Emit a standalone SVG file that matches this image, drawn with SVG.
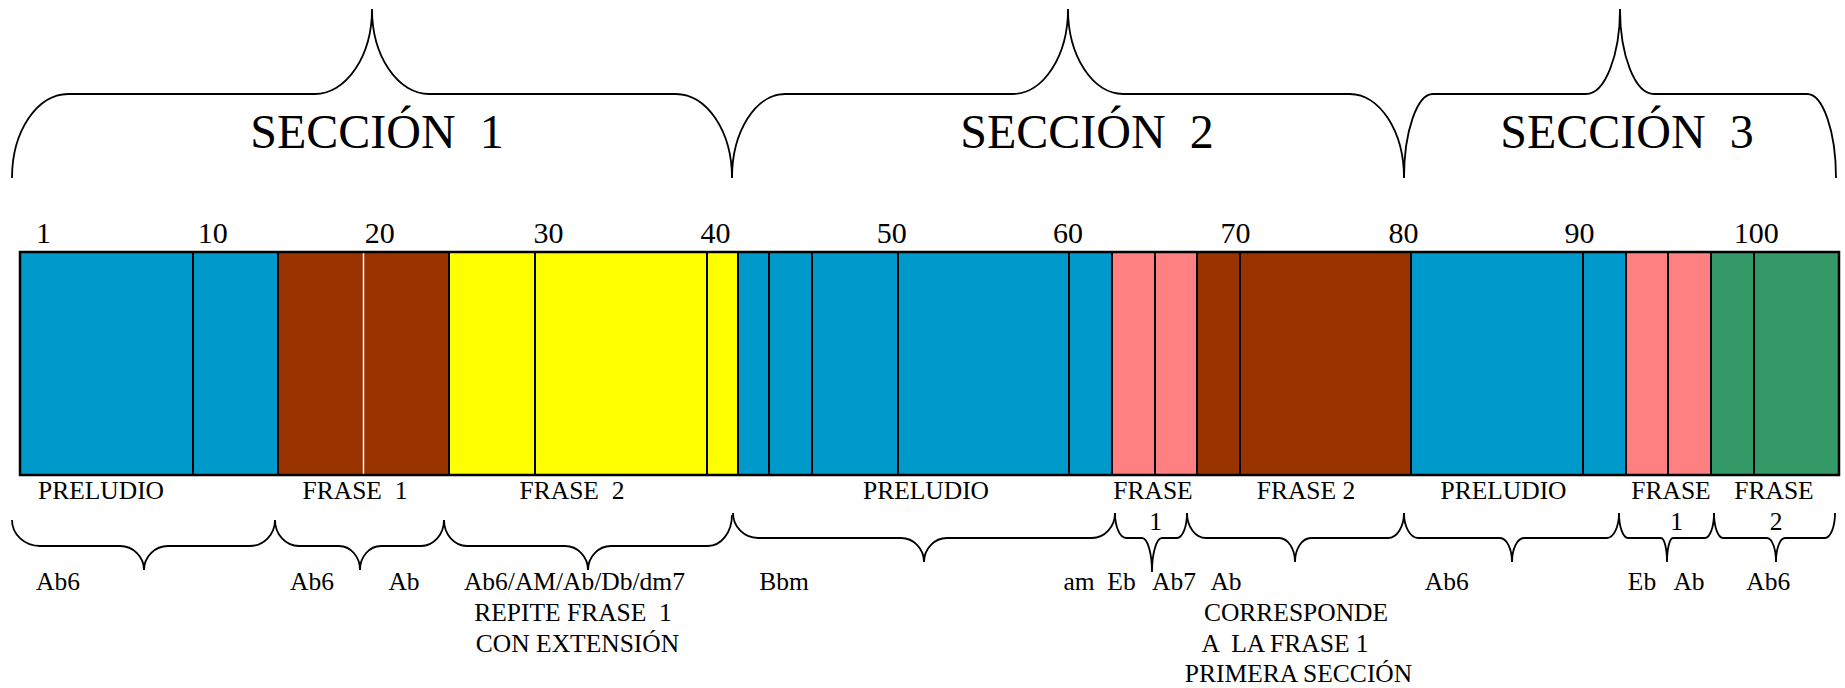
<svg xmlns="http://www.w3.org/2000/svg" width="1845" height="688" viewBox="0 0 1845 688">
<style>
text{font-family:"Liberation Serif","Times New Roman",serif;fill:#000;white-space:pre}
.t{font-size:48px;text-anchor:middle}
.n{font-size:30px;text-anchor:middle}
.l{font-size:25.5px;text-anchor:middle}
.br{fill:none;stroke:#000;stroke-width:1.8}
.dv{stroke:#000;stroke-width:2}
.b{fill:#0099cc}.r{fill:#993300}.y{fill:#ffff00}.p{fill:#ff8080}.g{fill:#339966}
</style>
<rect width="1845" height="688" fill="#fff"/>
<g id="connectors">
<path class="br" d="M12,178 A56,84 0 0 1 68,94 H315 A57,85 0 0 0 372,9 A57,85 0 0 0 429,94 H676 A56,84 0 0 1 732,178"/>
<path class="br" d="M732,178 A53,84 0 0 1 785,94 H1013 A55,85 0 0 0 1068,9 A55,85 0 0 0 1123,94 H1350 A54,84 0 0 1 1404,178"/>
<path class="br" d="M1404,178 A29,84 0 0 1 1433,94 H1586 A34,85 0 0 0 1620,9 A34,85 0 0 0 1654,94 H1807 A29,84 0 0 1 1836,178"/>
<path class="br" d="M12,520 A28,26 0 0 0 40,546 H120 A24,24 0 0 1 144,570 A24,24 0 0 1 168,546 H250 A25,26 0 0 0 275,520"/>
<path class="br" d="M275,520 A24,26 0 0 0 299,546 H339 A21,24 0 0 1 360,570 A21,24 0 0 1 381,546 H421 A23,26 0 0 0 444,520"/>
<path class="br" d="M444,520 A23,26 0 0 0 467,546 H565 A23,24 0 0 1 588,570 A23,24 0 0 1 611,546 H708 A24,31 0 0 0 732,515"/>
<path class="br" d="M733,513 A25,25 0 0 0 758,538 H901 A23,24 0 0 1 924,562 A23,24 0 0 1 947,538 H1092 A23,25 0 0 0 1115,513"/>
<path class="br" d="M1115,513 A11,25 0 0 0 1126,538 H1142 A10,34 0 0 1 1152,572 A10,34 0 0 1 1162,538 H1177 A10,25 0 0 0 1187,513"/>
<path class="br" d="M1187,513 A19,25 0 0 0 1206,538 H1279 A16,24 0 0 1 1295,562 A16,24 0 0 1 1311,538 H1388 A16,25 0 0 0 1404,513"/>
<path class="br" d="M1404,513 A14,25 0 0 0 1418,538 H1500 A12,24 0 0 1 1512,562 A12,24 0 0 1 1524,538 H1607 A12,25 0 0 0 1619,513"/>
<path class="br" d="M1619,513 A9,25 0 0 0 1628,538 H1661 A6,24 0 0 1 1667,562 A6,24 0 0 1 1673,538 H1705 A9,25 0 0 0 1714,513"/>
<path class="br" d="M1714,513 A9,25 0 0 0 1723,538 H1767 A9,24 0 0 1 1776,562 A9,24 0 0 1 1785,538 H1825 A10,25 0 0 0 1835,513"/>
</g>
<g id="titles">
<text class="t" x="377" y="148">SECCIÓN  1</text>
<text class="t" x="1087" y="148">SECCIÓN  2</text>
<text class="t" x="1627" y="148">SECCIÓN  3</text>
</g>
<g id="numbers">
<text class="n" x="43.6" y="243">1</text>
<text class="n" x="212.8" y="243">10</text>
<text class="n" x="379.8" y="243">20</text>
<text class="n" x="548.4" y="243">30</text>
<text class="n" x="715.4" y="243">40</text>
<text class="n" x="891.7" y="243">50</text>
<text class="n" x="1067.9" y="243">60</text>
<text class="n" x="1235.6" y="243">70</text>
<text class="n" x="1403.5" y="243">80</text>
<text class="n" x="1579.5" y="243">90</text>
<text class="n" x="1756.2" y="243">100</text>
</g>
<g id="bar">
<g id="seg-preludio-1"><rect class="b" x="20" y="252" width="258" height="223"/><line class="dv" x1="193" y1="252" x2="193" y2="475"/></g>
<g id="seg-frase1-1"><rect class="r" x="278" y="252" width="171" height="223"/><line x1="363.5" y1="253" x2="363.5" y2="474" stroke="#fff" stroke-width="1.5"/></g>
<g id="seg-frase2-1"><rect class="y" x="449" y="252" width="289" height="223"/><line class="dv" x1="535" y1="252" x2="535" y2="475"/><line class="dv" x1="707" y1="252" x2="707" y2="475"/></g>
<g id="seg-preludio-2"><rect class="b" x="738" y="252" width="374" height="223"/><line class="dv" x1="769" y1="252" x2="769" y2="475"/><line class="dv" x1="812" y1="252" x2="812" y2="475"/><line class="dv" x1="898" y1="252" x2="898" y2="475"/><line class="dv" x1="1069" y1="252" x2="1069" y2="475"/></g>
<g id="seg-frase1-2"><rect class="p" x="1112" y="252" width="85" height="223"/><line class="dv" x1="1155" y1="252" x2="1155" y2="475"/></g>
<g id="seg-frase2-2"><rect class="r" x="1197" y="252" width="214" height="223"/><line class="dv" x1="1240" y1="252" x2="1240" y2="475"/></g>
<g id="seg-preludio-3"><rect class="b" x="1411" y="252" width="215" height="223"/><line class="dv" x1="1583" y1="252" x2="1583" y2="475"/></g>
<g id="seg-frase1-3"><rect class="p" x="1626" y="252" width="85" height="223"/><line class="dv" x1="1668" y1="252" x2="1668" y2="475"/></g>
<g id="seg-frase2-3"><rect class="g" x="1711" y="252" width="128" height="223"/><line class="dv" x1="1754" y1="252" x2="1754" y2="475"/></g>
<g id="bar-dividers">
<line class="dv" x1="278" y1="252" x2="278" y2="475"/><line class="dv" x1="449" y1="252" x2="449" y2="475"/><line class="dv" x1="738" y1="252" x2="738" y2="475"/><line class="dv" x1="1112" y1="252" x2="1112" y2="475"/><line class="dv" x1="1197" y1="252" x2="1197" y2="475"/><line class="dv" x1="1411" y1="252" x2="1411" y2="475"/><line class="dv" x1="1626" y1="252" x2="1626" y2="475"/><line class="dv" x1="1711" y1="252" x2="1711" y2="475"/>
</g>
<rect x="20" y="252" width="1819" height="223" fill="none" stroke="#000" stroke-width="2.5"/>
</g>
<g id="labels">
<text class="l" x="101" y="499">PRELUDIO</text>
<text class="l" x="355" y="499">FRASE  1</text>
<text class="l" x="572" y="499">FRASE  2</text>
<text class="l" x="926" y="499">PRELUDIO</text>
<text class="l" x="1153" y="499">FRASE</text>
<text class="l" x="1155.6" y="529.5">1</text>
<text class="l" x="1306" y="499">FRASE 2</text>
<text class="l" x="1503.5" y="499">PRELUDIO</text>
<text class="l" x="1671" y="499">FRASE</text>
<text class="l" x="1676.7" y="529.5">1</text>
<text class="l" x="1774" y="499">FRASE</text>
<text class="l" x="1776" y="529.5">2</text>
</g>
<g id="chords">
<text class="l" x="58" y="590">Ab6</text>
<text class="l" x="312" y="590">Ab6</text>
<text class="l" x="404" y="590">Ab</text>
<text class="l" x="574.4" y="590">Ab6/AM/Ab/Db/dm7</text>
<text class="l" x="573" y="621">REPITE FRASE  1</text>
<text class="l" x="577.5" y="652">CON EXTENSIÓN</text>
<text class="l" x="784" y="590">Bbm</text>
<text class="l" x="1079" y="590">am</text>
<text class="l" x="1121.5" y="590">Eb</text>
<text class="l" x="1174" y="590">Ab7</text>
<text class="l" x="1226" y="590">Ab</text>
<text class="l" x="1296" y="621">CORRESPONDE</text>
<text class="l" x="1285" y="652">A  LA FRASE 1</text>
<text class="l" x="1298.5" y="682">PRIMERA SECCIÓN</text>
<text class="l" x="1446.7" y="590">Ab6</text>
<text class="l" x="1642" y="590">Eb</text>
<text class="l" x="1689" y="590">Ab</text>
<text class="l" x="1768.3" y="590">Ab6</text>
</g>
</svg>
